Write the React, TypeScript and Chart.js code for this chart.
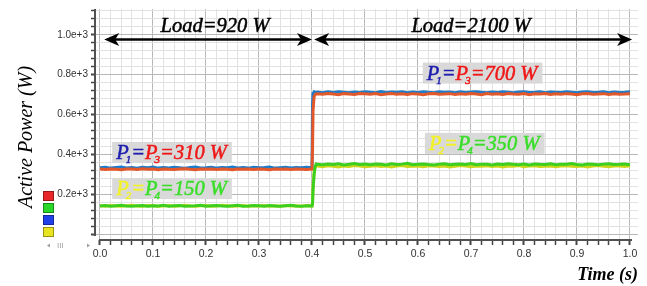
import React, { useEffect, useRef } from 'react';
import { Chart, registerables } from 'chart.js';

Chart.register(...registerables);

// time samples (s)
const TIME = [
  0.00, 0.01, 0.02, 0.03, 0.04, 0.05, 0.06, 0.07, 0.08, 0.09,
  0.10, 0.11, 0.12, 0.13, 0.14, 0.15, 0.16, 0.17, 0.18, 0.19,
  0.20, 0.21, 0.22, 0.23, 0.24, 0.25, 0.26, 0.27, 0.28, 0.29,
  0.30, 0.31, 0.32, 0.33, 0.34, 0.35, 0.36, 0.37, 0.38, 0.39,
  0.40,
  0.401, 0.402, 0.404, 0.406, 0.408,
  0.41, 0.42, 0.43, 0.44, 0.45, 0.46, 0.47, 0.48, 0.49, 0.50,
  0.51, 0.52, 0.53, 0.54, 0.55, 0.56, 0.57, 0.58, 0.59, 0.60,
  0.61, 0.62, 0.63, 0.64, 0.65, 0.66, 0.67, 0.68, 0.69, 0.70,
  0.71, 0.72, 0.73, 0.74, 0.75, 0.76, 0.77, 0.78, 0.79, 0.80,
  0.81, 0.82, 0.83, 0.84, 0.85, 0.86, 0.87, 0.88, 0.89, 0.90,
  0.91, 0.92, 0.93, 0.94, 0.95, 0.96, 0.97, 0.98, 0.99, 1.00,
];

// P1 (blue), W
const P1_BLUE = [
  333, 335, 331, 334, 336, 332, 334, 330, 335, 333,
  336, 331, 334, 332, 335, 333, 330, 334, 336, 332,
  333, 335, 331, 334, 333, 336, 332, 334, 331, 335,
  333, 334, 336, 331, 333, 335, 332, 334, 333, 335,
  333,
  650, 705, 714, 712, 711,
  713, 710, 714, 711, 715, 712, 709, 713, 711, 714,
  712, 710, 715, 711, 713, 712, 714, 710, 713, 711,
  715, 712, 710, 714, 712, 713, 709, 714, 711, 713,
  715, 712, 710, 713, 711, 714, 712, 710, 713, 715,
  711, 712, 714, 710, 713, 712, 711, 714, 712, 710,
  713, 715, 711, 712, 714, 710, 713, 711, 712, 714,
];

// P3 (orange), W
const P3_ORANGE = [
  326, 324, 327, 325, 323, 327, 326, 324, 328, 325,
  326, 323, 327, 325, 324, 326, 328, 325, 323, 326,
  325, 327, 324, 326, 325, 323, 327, 325, 326, 324,
  327, 325, 323, 326, 325, 327, 324, 326, 325, 324,
  326,
  420, 620, 690, 700, 703,
  704, 702, 706, 703, 700, 705, 703, 701, 706, 704,
  702, 705, 700, 703, 706, 702, 704, 701, 705, 703,
  700, 704, 706, 702, 703, 705, 701, 704, 702, 706,
  703, 700, 705, 702, 704, 701, 706, 703, 702, 705,
  700, 704, 703, 706, 701, 704, 702, 705, 703, 700,
  704, 706, 702, 703, 705, 701, 704, 702, 703, 705,
];

// P2 (yellow), W
const P2_YELLOW = [
  142, 140, 143, 141, 139, 142, 144, 141, 140, 143,
  142, 139, 141, 143, 140, 142, 144, 141, 139, 142,
  143, 140, 141, 144, 142, 139, 141, 143, 140, 142,
  141, 143, 139, 142, 140, 143, 141, 142, 140, 143,
  141,
  160, 240, 310, 335, 342,
  341, 338, 343, 340, 337, 342, 339, 344, 341, 338,
  340, 343, 339, 342, 337, 341, 344, 339, 340, 342,
  338, 343, 341, 339, 342, 337, 340, 344, 341, 338,
  342, 340, 343, 339, 341, 337, 342, 340, 344, 338,
  341, 343, 339, 340, 342, 338, 341, 343, 340, 339,
  342, 337, 341, 344, 340, 338, 342, 341, 339, 343,
];

// P4 (green), W
const P4_GREEN = [
  141, 143, 140, 142, 144, 141, 139, 142, 143, 140,
  142, 141, 144, 140, 142, 143, 139, 141, 142, 144,
  140, 142, 143, 141, 139, 142, 144, 140, 141, 143,
  142, 140, 143, 141, 139, 142, 144, 141, 140, 142,
  141,
  150, 220, 300, 340, 352,
  350, 348, 352, 349, 353, 347, 350, 354, 349, 351,
  348, 352, 350, 347, 353, 349, 351, 355, 348, 350,
  352, 349, 347, 351, 353, 348, 350, 352, 349, 354,
  348, 351, 350, 347, 352, 349, 353, 350, 348, 351,
  347, 352, 350, 349, 353, 348, 351, 350, 354, 349,
  347, 352, 350, 348, 351, 353, 349, 350, 352, 348,
];

const X_TICK_LABELS = ['0.0', '0.1', '0.2', '0.3', '0.4', '0.5', '0.6', '0.7', '0.8', '0.9', '1.0'];
const Y_TICK_LABELS = ['0.2e+3', '0.4e+3', '0.6e+3', '0.8e+3', '1.0e+3'];

const LOAD_TEXT = ['Load=920 W', 'Load=2100 W'];
const LOAD_TEXT_X = [0.217, 0.70];
const LOAD_SPANS = [[0.008, 0.4], [0.404, 1.004]];
const LOAD_LEVEL = 977;

const C_BLUE_T = '#1e1eae';
const C_RED_T = '#f01818';
const C_YEL_T = '#f2f228';
const C_GRN_T = '#3ade2a';

type Seg = [string, string, number?];
const RICH_LABELS: { x: number; y: number; segs: Seg[] }[] = [
  { x: 0.023, y: 462, segs: [['P', C_BLUE_T], ['1', C_BLUE_T, 1], ['=', C_BLUE_T], ['P', C_RED_T], ['3', C_RED_T, 1], ['=310 W', C_RED_T]] },
  { x: 0.023, y: 281, segs: [['P', C_YEL_T], ['2', C_YEL_T, 1], ['=', C_YEL_T], ['P', C_GRN_T], ['4', C_GRN_T, 1], ['=150 W', C_GRN_T]] },
  { x: 0.609, y: 861, segs: [['P', C_BLUE_T], ['1', C_BLUE_T, 1], ['=', C_BLUE_T], ['P', C_RED_T], ['3', C_RED_T, 1], ['=700 W', C_RED_T]] },
  { x: 0.613, y: 508, segs: [['P', C_YEL_T], ['2', C_YEL_T, 1], ['=', C_YEL_T], ['P', C_GRN_T], ['4', C_GRN_T, 1], ['=350 W', C_GRN_T]] },
];

const SERIES = [
  { label: 'P4', data: P4_GREEN, color: '#3ccf1e' },
  { label: 'P3', data: P3_ORANGE, color: '#e2582a' },
  { label: 'P2', data: P2_YELLOW, color: '#cdd41c' },
  { label: 'P1', data: P1_BLUE, color: '#1f7ac8' },
];

const LEGEND_COLORS = ['#e82828', '#2ad82a', '#2040e8', '#e8e420'];

const SERIF = '"Liberation Serif", "Times New Roman", serif';
const SANS = '"Liberation Sans", Arial, sans-serif';

function drawArrowHead(ctx: CanvasRenderingContext2D, tx: number, ty: number, dir: number) {
  ctx.beginPath();
  ctx.moveTo(tx, ty);
  ctx.lineTo(tx - dir * 15, ty - 6.5);
  ctx.lineTo(tx - dir * 11, ty);
  ctx.lineTo(tx - dir * 15, ty + 6.5);
  ctx.closePath();
  ctx.fill();
}

function boldText(ctx: CanvasRenderingContext2D, t: string, x: number, y: number, color: string) {
  ctx.fillStyle = color;
  ctx.strokeStyle = color;
  ctx.lineWidth = 0.5;
  ctx.fillText(t, x, y);
  ctx.strokeText(t, x, y);
}

const decorPlugin = {
  id: 'decor',
  afterDatasetsDraw(chart: any) {
    const ctx: CanvasRenderingContext2D = chart.ctx;
    const xs = chart.scales.x;
    const ys = chart.scales.y;
    const area = chart.chartArea;
    ctx.save();

    // axis lines
    ctx.strokeStyle = '#505050';
    ctx.lineWidth = 2;
    ctx.beginPath();
    ctx.moveTo(area.left, area.top);
    ctx.lineTo(area.left, ys.getPixelForValue(0) + 2);
    ctx.stroke();
    ctx.beginPath();
    ctx.moveTo(xs.getPixelForValue(0) - 1, area.bottom);
    ctx.lineTo(xs.getPixelForValue(1) + 2, area.bottom);
    ctx.stroke();

    // load arrows
    const ay = ys.getPixelForValue(LOAD_LEVEL);
    LOAD_SPANS.forEach((span, i) => {
      const a = xs.getPixelForValue(span[0]);
      const b = xs.getPixelForValue(span[1]);
      ctx.strokeStyle = '#000';
      ctx.fillStyle = '#000';
      ctx.lineWidth = 2.5;
      ctx.beginPath();
      ctx.moveTo(a + 8, ay);
      ctx.lineTo(b - 8, ay);
      ctx.stroke();
      drawArrowHead(ctx, a, ay, -1);
      drawArrowHead(ctx, b, ay, 1);
      ctx.font = `italic 20.5px ${SERIF}`;
      ctx.textAlign = 'center';
      ctx.textBaseline = 'alphabetic';
      boldText(ctx, LOAD_TEXT[i], xs.getPixelForValue(LOAD_TEXT_X[i]), ay - 7, '#000');
    });

    // rich labels
    const mainFont = `italic 20.5px ${SERIF}`;
    const subFont = `italic 11px ${SERIF}`;
    RICH_LABELS.forEach((lab) => {
      const left = xs.getPixelForValue(lab.x);
      const top = ys.getPixelForValue(lab.y);
      let w = 0;
      lab.segs.forEach((s) => {
        ctx.font = s[2] ? subFont : mainFont;
        w += ctx.measureText(s[0]).width - (s[2] ? 3 : 0);
      });
      ctx.fillStyle = '#d9d9d9';
      ctx.fillRect(left, top, w + 9, 21);
      let cx = left + 4;
      ctx.textAlign = 'left';
      ctx.textBaseline = 'alphabetic';
      lab.segs.forEach((s) => {
        ctx.font = s[2] ? subFont : mainFont;
        if (s[2]) {
          boldText(ctx, s[0], cx - 3, top + 21, s[1]);
          cx += ctx.measureText(s[0]).width - 3;
        } else {
          boldText(ctx, s[0], cx, top + 17, s[1]);
          cx += ctx.measureText(s[0]).width;
        }
      });
    });

    // axis titles
    ctx.fillStyle = '#000';
    ctx.font = `italic 20px ${SERIF}`;
    ctx.textAlign = 'center';
    ctx.textBaseline = 'middle';
    ctx.save();
    ctx.translate(27, 137);
    ctx.rotate(-Math.PI / 2);
    ctx.fillText('Active Power (W)', 0, 0);
    ctx.restore();
    ctx.font = `italic bold 18px ${SERIF}`;
    ctx.textAlign = 'right';
    ctx.textBaseline = 'alphabetic';
    ctx.fillText('Time (s)', 638, 280);

    // legend swatches
    LEGEND_COLORS.forEach((c, i) => {
      const y0 = 191 + i * 12;
      ctx.fillStyle = c;
      ctx.fillRect(43, y0, 11, 10);
      ctx.strokeStyle = 'rgba(0,0,0,0.35)';
      ctx.lineWidth = 1;
      ctx.strokeRect(43.5, y0 + 0.5, 10, 9);
    });
    // scroll stub
    ctx.fillStyle = '#a0a0a0';
    ctx.beginPath();
    ctx.moveTo(47, 245.5); ctx.lineTo(50, 243.5); ctx.lineTo(50, 247.5); ctx.closePath(); ctx.fill();
    ctx.beginPath();
    ctx.moveTo(90, 245.5); ctx.lineTo(87, 243.5); ctx.lineTo(87, 247.5); ctx.closePath(); ctx.fill();
    ctx.font = `8px ${SANS}`;
    ctx.textAlign = 'left';
    ctx.textBaseline = 'middle';
    ctx.fillText('III', 57, 246);

    ctx.restore();
  },
};

export default function App() {
  const ref = useRef<HTMLCanvasElement | null>(null);
  useEffect(() => {
    if (!ref.current) return;
    const gridColor = (c: any) => (c.index % 5 === 0 ? '#b8b8b8' : '#e2e2e2');
    const chart = new Chart(ref.current, {
      type: 'line',
      data: {
        datasets: SERIES.map((s) => ({
          label: s.label,
          data: TIME.map((t, i) => ({ x: t, y: s.data[i] })),
          borderColor: s.color,
          backgroundColor: s.color,
          borderWidth: 3,
          pointRadius: 0,
          tension: 0,
          fill: false,
        })),
      },
      options: {
        responsive: false,
        animation: false,
        events: [],
        layout: { padding: { top: 8, right: 9, left: 0, bottom: 0 } },
        plugins: { legend: { display: false }, tooltip: { enabled: false } },
        scales: {
          x: {
            type: 'linear',
            min: -0.0094,
            max: 1.0151,
            afterBuildTicks: (scale: any) => {
              const t = [];
              for (let i = 0; i <= 50; i++) t.push({ value: i * 0.02 });
              scale.ticks = t;
            },
            afterFit: (scale: any) => { scale.height = 46; },
            border: { display: false },
            grid: {
              color: gridColor,
              lineWidth: 1,
              drawTicks: true,
              tickLength: 5,
              tickColor: '#444',
              tickWidth: (c: any) => (c.index % 5 === 0 ? 2 : 1.5),
            },
            ticks: {
              autoSkip: false,
              maxRotation: 0,
              padding: 3,
              color: '#333',
              font: { family: SANS, size: 10.5 },
              callback: (_v: any, i: number) => (i % 5 === 0 ? X_TICK_LABELS[i / 5] : ''),
            },
          },
          y: {
            type: 'linear',
            min: -30,
            max: 1130,
            afterBuildTicks: (scale: any) => {
              const t = [];
              for (let i = 0; i <= 28; i++) t.push({ value: i * 40 });
              scale.ticks = t;
            },
            afterFit: (scale: any) => { scale.width = 95; },
            border: { display: false },
            grid: {
              color: gridColor,
              lineWidth: 1,
              drawTicks: true,
              tickLength: 4,
              tickColor: '#444',
              tickWidth: (c: any) => (c.index % 5 === 0 ? 2 : 1.5),
            },
            ticks: {
              autoSkip: false,
              padding: 3,
              color: '#333',
              font: { family: SANS, size: 10 },
              callback: (_v: any, i: number) => (i % 5 === 0 && i > 0 ? Y_TICK_LABELS[i / 5 - 1] : ''),
            },
          },
        },
      } as any,
      plugins: [decorPlugin],
    });
    return () => chart.destroy();
  }, []);
  return (
    <div style={{ position: 'fixed', left: 0, top: 0, width: 647, height: 286, background: '#fff' }}>
      <canvas ref={ref} width={647} height={286} />
    </div>
  );
}
